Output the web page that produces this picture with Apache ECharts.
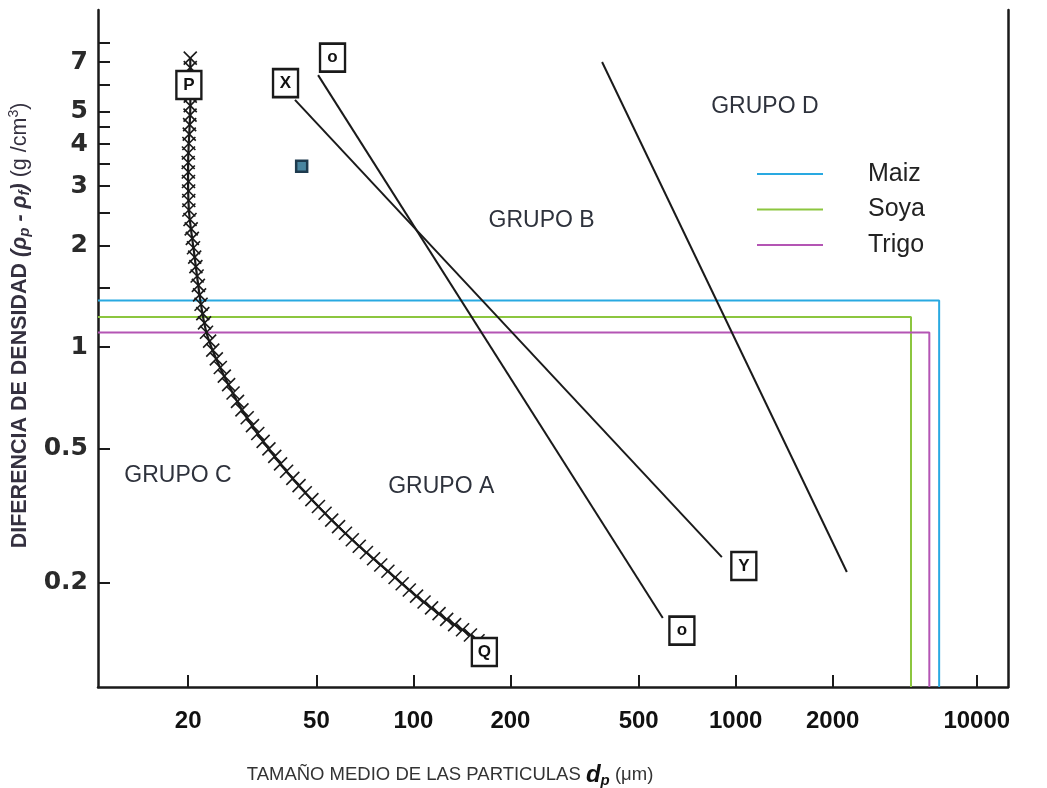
<!DOCTYPE html>
<html>
<head>
<meta charset="utf-8">
<script src="https://cdn.jsdelivr.net/npm/echarts@6/dist/echarts.min.js"></script>
<style>
  html, body { margin: 0; padding: 0; background: #ffffff; }
  #chart { width: 1047px; height: 788px; }
</style>
</head>
<body>
<div id="chart"></div>
<script>
// Powder classification chart: density difference vs. mean particle size (log-log)

// Axis ranges and ticks
const xMin = 10.5, xMax = 7000;
const yMin = 0.098, yMax = 10;
const xTickValues = [20, 50, 100, 200, 500, 1000, 2000, 5600];
const xTickLabels = ['20', '50', '100', '200', '500', '1000', '2000', '10000'];
const yTickValues = [0.2, 0.5, 1, 2, 3, 4, 5, 7];
const yTickLabels = ['0.2', '0.5', '1', '2', '3', '4', '5', '7'];
const yAllTicks = [0.2, 0.5, 1, 1.5, 2, 2.5, 3, 3.5, 4, 4.5, 5, 6, 7, 8];

// Group C / A boundary (P - Q), hatched
const pqDp  = [20.3, 20.3, 20.0, 20.1, 20.9, 21.8, 22.7, 24.1, 26.2, 29.4, 33.9, 39.4, 46.1, 55.1, 66.8, 81.6, 101, 125, 150, 161];
const pqRho = [7.2, 5.05, 3.59, 2.55, 1.88, 1.38, 1.12, 0.95, 0.80, 0.65, 0.53, 0.44, 0.37, 0.31, 0.26, 0.22, 0.184, 0.157, 0.14, 0.133];

// Group A / B boundary (o - o)
const abDp  = [50.6, 594];
const abRho = [6.41, 0.157];

// Line X - Y
const xyDp  = [42.9, 906];
const xyRho = [5.41, 0.238];

// Group B / D boundary
const bdDp  = [385, 2213];
const bdRho = [7.01, 0.215];

// Boxed letters at the line ends
const boxLetters = ['P', 'X', 'o', 'Q', 'o', 'Y'];
const boxDp      = [20.1, 40.1, 56.1, 166, 681, 1060];
const boxRho     = [5.99, 6.07, 7.22, 0.1245, 0.1441, 0.224];

// Single sample point
const sampleDp  = [45];
const sampleRho = [3.44];

// Grains: density difference and size
const grainNames  = ['Maiz', 'Soya', 'Trigo'];
const grainDp     = [4280, 3500, 3990];
const grainRho    = [1.374, 1.227, 1.104];
const grainColors = ['#29a9e1', '#8cc63f', '#b455b4'];

// Region names
const groupNames = ['GRUPO D', 'GRUPO B', 'GRUPO C', 'GRUPO A'];
const groupDp    = [1232, 250, 18.6, 122];
const groupRho   = [5.16, 2.37, 0.414, 0.384];

const pairs = (xs, ys) => xs.map((x, i) => [x, ys[i]]);
const ink = '#1a1a1a';
const sans = 'Liberation Sans, Arial, sans-serif';

function nearestLabel(v, values, labels) {
  let best = 0, bestD = Infinity;
  values.forEach((t, i) => {
    const d = Math.abs(Math.log(v / t));
    if (d < bestD) { bestD = d; best = i; }
  });
  return labels[best];
}

const chart = echarts.init(document.getElementById('chart'), null, { renderer: 'canvas' });

const grainSeries = grainNames.map((name, i) => ({
  name: name,
  type: 'line',
  data: [[xMin, grainRho[i]], [grainDp[i], grainRho[i]], [grainDp[i], yMin]],
  showSymbol: false,
  symbol: 'none',
  lineStyle: { color: grainColors[i], width: 2 },
  itemStyle: { color: grainColors[i] },
  silent: true,
  z: 2
}));

const straight = (data) => ({
  type: 'line',
  data: data,
  symbol: 'none',
  lineStyle: { color: ink, width: 2 },
  silent: true,
  z: 3
});

const option = {
  backgroundColor: '#ffffff',
  animation: false,
  grid: { left: 98, right: 39, top: 10, bottom: 101, containLabel: false, outerBoundsMode: 'none' },
  legend: {
    data: grainNames,
    orient: 'vertical',
    left: 752,
    top: 154,
    icon: 'rect',
    itemWidth: 66,
    itemHeight: 2,
    itemGap: 5.5,
    textStyle: {
      fontFamily: sans,
      fontSize: 25,
      lineHeight: 30,
      color: '#222222',
      padding: [0, 0, 0, 40]
    },
    selectedMode: false
  },
  xAxis: {
    type: 'log',
    logBase: 10,
    min: xMin,
    max: xMax,
    name: '{t|TAMAÑO MEDIO DE LAS PARTICULAS }{d|d}{s|p}{t| (μm)}',
    nameLocation: 'middle',
    nameGap: 75,
    nameTextStyle: {
      padding: [0, 206, 0, 0],
      rich: {
        t: { fontFamily: sans, fontSize: 18.5, color: '#333333', lineHeight: 26 },
        d: { fontFamily: sans, fontSize: 24, fontWeight: 'bold', fontStyle: 'italic', color: '#111111', lineHeight: 26 },
        s: { fontFamily: sans, fontSize: 15, fontWeight: 'bold', fontStyle: 'italic', color: '#111111', verticalAlign: 'bottom', lineHeight: 26 }
      }
    },
    axisLine: { show: true, onZero: false, lineStyle: { color: ink, width: 2.5 } },
    axisTick: { show: true, inside: true, length: 12, customValues: xTickValues, lineStyle: { color: ink, width: 2 } },
    minorTick: { show: false },
    splitLine: { show: false },
    axisLabel: {
      customValues: xTickValues,
      margin: 22,
      fontFamily: sans,
      fontWeight: 'bold',
      fontSize: 24,
      color: '#111111',
      formatter: (v) => nearestLabel(v, xTickValues, xTickLabels)
    }
  },
  yAxis: [{
    type: 'log',
    logBase: 10,
    min: yMin,
    max: yMax,
    name: '{t|DIFERENCIA DE DENSIDAD }{g|(ρ}{s|p}{g| - ρ}{s|f}{g|)}{r| (g /cm}{u|3}{r|)}',
    nameLocation: 'middle',
    nameRotate: 90,
    nameGap: 63,
    nameTextStyle: {
      padding: [0, 0, 0, 46],
      rich: {
        t: { fontFamily: sans, fontSize: 21.5, fontWeight: 'bold', color: '#34303f', lineHeight: 26 },
        g: { fontFamily: sans, fontSize: 21.5, fontStyle: 'italic', fontWeight: 'bold', color: '#34303f', lineHeight: 26 },
        s: { fontFamily: sans, fontSize: 15, fontStyle: 'italic', fontWeight: 'bold', color: '#34303f', verticalAlign: 'bottom', lineHeight: 26 },
        r: { fontFamily: sans, fontSize: 21.5, color: '#34303f', lineHeight: 26 },
        u: { fontFamily: sans, fontSize: 14, color: '#34303f', verticalAlign: 'top', lineHeight: 26 }
      }
    },
    axisLine: { show: true, onZero: false, lineStyle: { color: ink, width: 2.5 } },
    axisTick: { show: true, inside: true, length: 12, customValues: yAllTicks, lineStyle: { color: ink, width: 2 } },
    minorTick: { show: false },
    splitLine: { show: false },
    axisLabel: {
      customValues: yTickValues,
      margin: 10,
      fontFamily: 'DejaVu Sans, sans-serif',
      fontWeight: 'bold',
      fontSize: 25,
      color: '#2a2a2a',
      formatter: (v) => nearestLabel(v, yTickValues, yTickLabels)
    }
  }, {
    type: 'log',
    logBase: 10,
    min: yMin,
    max: yMax,
    position: 'right',
    axisLine: { show: true, onZero: false, lineStyle: { color: ink, width: 2.5 } },
    axisTick: { show: false },
    axisLabel: { show: false },
    splitLine: { show: false },
    minorTick: { show: false }
  }],
  series: [
    ...grainSeries,
    straight(pairs(abDp, abRho)),
    straight(pairs(xyDp, xyRho)),
    straight(pairs(bdDp, bdRho)),
    {
      // hatched C/A boundary: the curve with small crosses set along it
      type: 'custom',
      coordinateSystem: 'cartesian2d',
      data: [[pqDp[0], pqRho[0]]],
      silent: true,
      z: 4,
      renderItem: function (params, api) {
        const pts = pqDp.map((d, i) => api.coord([d, pqRho[i]]));
        const children = [{
          type: 'polyline',
          shape: { points: pts, smooth: 0.25 },
          style: { stroke: ink, lineWidth: 2.2, fill: null }
        }];
        const step = 9.5, arm = 6.5;
        let carry = 0;
        for (let i = 0; i < pts.length - 1; i++) {
          const x0 = pts[i][0], y0 = pts[i][1], x1 = pts[i + 1][0], y1 = pts[i + 1][1];
          const len = Math.hypot(x1 - x0, y1 - y0);
          let t = carry;
          while (t <= len) {
            const x = x0 + (x1 - x0) * t / len;
            const y = y0 + (y1 - y0) * t / len;
            children.push({ type: 'line', shape: { x1: x - arm, y1: y - arm, x2: x + arm, y2: y + arm }, style: { stroke: ink, lineWidth: 1.6 } });
            children.push({ type: 'line', shape: { x1: x - arm, y1: y + arm, x2: x + arm, y2: y - arm }, style: { stroke: ink, lineWidth: 1.6 } });
            t += step;
          }
          carry = t - len;
        }
        return { type: 'group', children: children };
      }
    },
    {
      // boxed letters
      type: 'scatter',
      data: pairs(boxDp, boxRho),
      symbol: 'rect',
      symbolSize: [25, 28],
      itemStyle: { color: '#ffffff', borderColor: ink, borderWidth: 2.5, opacity: 1 },
      label: {
        show: true,
        position: 'inside',
        formatter: (p) => boxLetters[p.dataIndex],
        fontFamily: sans,
        fontWeight: 'bold',
        fontSize: 17,
        color: '#111111'
      },
      silent: true,
      z: 6
    },
    {
      type: 'scatter',
      data: pairs(sampleDp, sampleRho),
      symbol: 'rect',
      symbolSize: 11,
      itemStyle: { color: '#4a86a0', borderColor: '#1e3b4e', borderWidth: 2.5, opacity: 1 },
      silent: true,
      z: 6
    },
    {
      // region names
      type: 'scatter',
      data: pairs(groupDp, groupRho),
      symbolSize: 0,
      itemStyle: { opacity: 1 },
      label: {
        show: true,
        position: 'inside',
        formatter: (p) => groupNames[p.dataIndex],
        fontFamily: sans,
        fontSize: 23,
        color: '#2e323c'
      },
      silent: true,
      z: 5
    }
  ]
};

chart.setOption(option);
</script>
</body>
</html>
